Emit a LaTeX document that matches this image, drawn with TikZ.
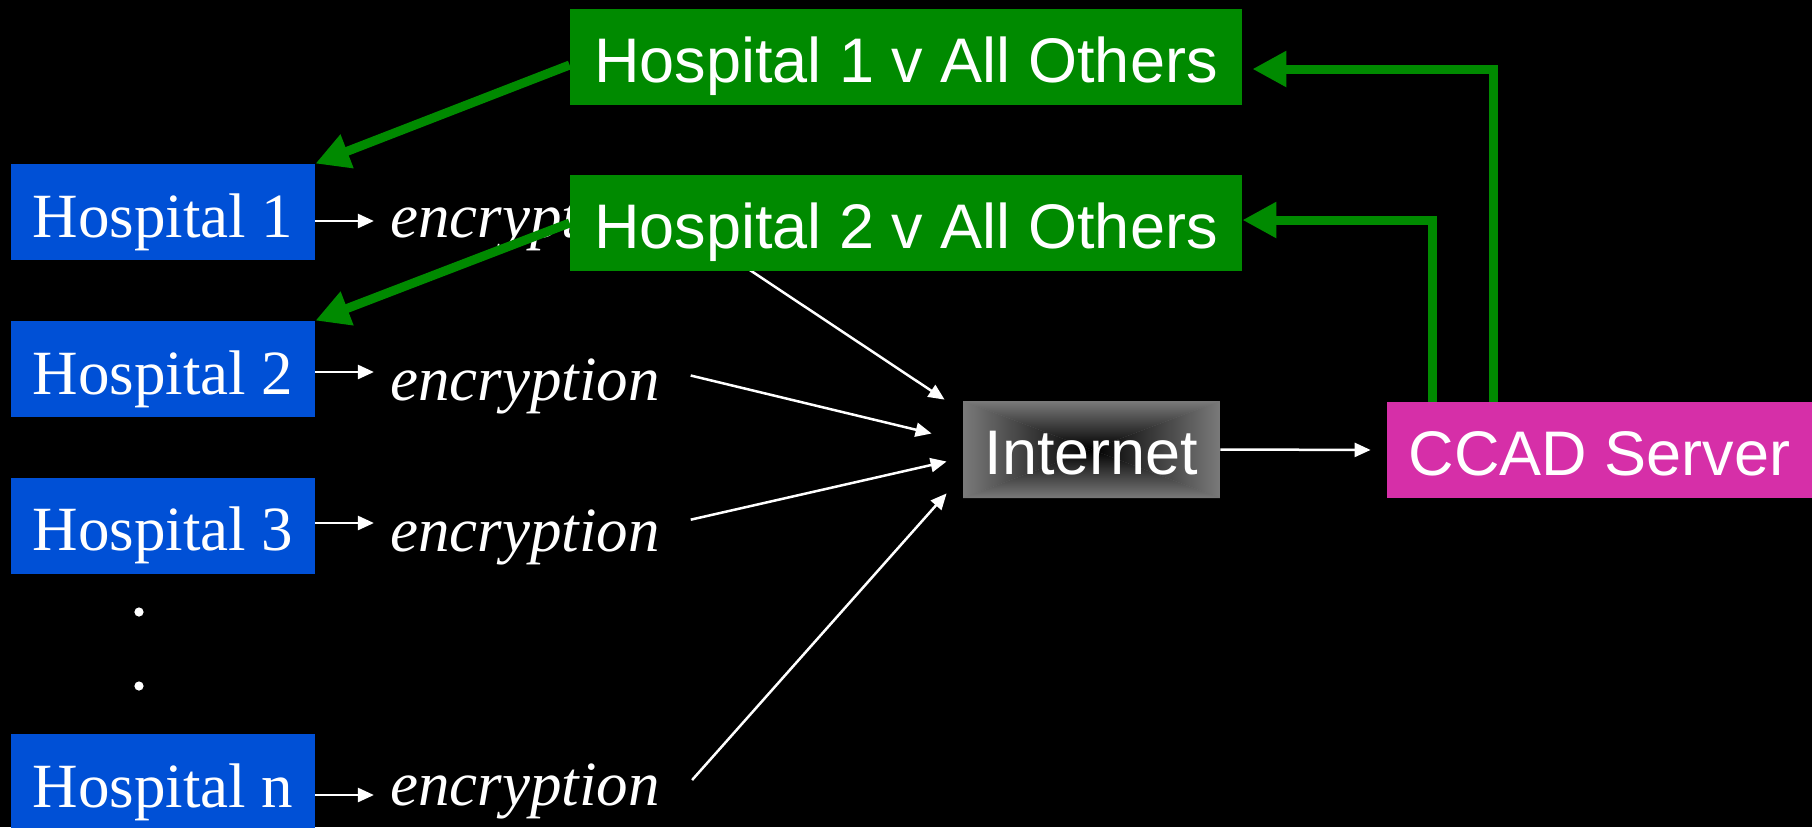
\documentclass[tikz,border=0pt]{standalone}
\usepackage{fontspec}
\setmainfont{Liberation Serif}
\setsansfont{Liberation Sans}
\usetikzlibrary{arrows.meta}
\definecolor{hospblue}{HTML}{0050D6}
\definecolor{modelgreen}{HTML}{008A00}
\definecolor{servermagenta}{HTML}{D62FA8}
\definecolor{netgray}{HTML}{7A7A7A}

\begin{document}
\begin{tikzpicture}[x=0.5pt, y=-0.5pt,
  hosp/.style={rectangle, fill=hospblue, text=white, inner sep=0pt,
               minimum width=152pt, minimum height=48pt, text height=25.2pt, text depth=0pt,
               font=\fontsize{31.5}{36}\selectfont},
  model/.style={rectangle, fill=modelgreen, text=white, inner sep=0pt,
                minimum width=336pt, minimum height=48pt, text height=25.2pt, text depth=0pt,
                font=\sffamily\fontsize{31.5}{36}\selectfont},
  server/.style={model, fill=servermagenta, minimum width=212.5pt},
  netbox/.style={model, fill=none, minimum width=128.5pt, minimum height=48.5pt,
                 path picture={
                   \coordinate (nsw) at (path picture bounding box.south west);
                   \coordinate (nnw) at (path picture bounding box.north west);
                   \coordinate (nne) at (path picture bounding box.north east);
                   \coordinate (nse) at (path picture bounding box.south east);
                   \coordinate (nc)  at (path picture bounding box.center);
                   \fill[netgray] (nsw) rectangle (nne);
                   \begin{scope}\clip (nsw) -- (nc) -- (nnw) -- cycle;
                     \shade[left color=netgray, right color=black] (nsw) rectangle (nc |- nne);\end{scope}
                   \begin{scope}\clip (nse) -- (nc) -- (nne) -- cycle;
                     \shade[left color=black, right color=netgray] (nc |- nsw) rectangle (nne);\end{scope}
                   \begin{scope}\clip (nnw) -- (nc) -- (nne) -- cycle;
                     \shade[top color=netgray, bottom color=black] (nsw |- nc) rectangle (nne);\end{scope}
                   \begin{scope}\clip (nsw) -- (nc) -- (nse) -- cycle;
                     \shade[top color=black, bottom color=netgray] (nsw) rectangle (nne |- nc);\end{scope}
                 }},
  crypt/.style={text=white, inner xsep=8pt, inner ysep=0pt, text depth=0pt,
                font=\itshape\fontsize{31.5}{36}\selectfont},
  dotmark/.style={circle, fill=white, inner sep=0pt, minimum size=4.6pt},
  flow/.style={-{Triangle[length=8pt, width=7pt]}, white, line width=1.25pt},
  feedback/.style={-{Triangle[length=17pt, width=17pt]}, modelgreen, line width=4.5pt},
]
  \useasboundingbox (0,0) rectangle (1812,827);
  \fill[black] (0,0) rectangle (1812,827);

  % hospitals and their encryption step
  \node[hosp] (h1) at (163,212)   {Hospital 1};
  \node[hosp] (h2) at (163,369)   {Hospital 2};
  \node[hosp] (h3) at (163,525.5) {Hospital 3};
  \node[hosp] (hn) at (163,782)   {Hospital n};
  \node[dotmark] (dot1) at (139,612) {};
  \node[dotmark] (dot2) at (139,686) {};

  \node[crypt, text height=16pt] (enc1) at (525,221) {encryption};
  \node[crypt, text height=28pt] (enc2) at (525,372) {encryption};
  \node[crypt, text height=28pt] (enc3) at (525,523) {encryption};
  \node[crypt, text height=10pt] (encn) at (525,795) {encryption};

  \node[netbox] (inet) at (1091.5,449.5) {Internet};
  \node[server] (ccad) at (1599.5,450)   {CCAD Server};

  \draw[flow] (h1.east |- enc1.west) -- (enc1.west);
  \draw[flow] (h2.east |- enc2.west) -- (enc2.west);
  \draw[flow] (h3.east |- enc3.west) -- (enc3.west);
  \draw[flow] (hn.east |- encn.west) -- (encn.west);
  \draw[flow, shorten <=7.5pt] (enc1.east) -- ([shift={(-18,-1)}]inet.north west);
  \draw[flow, shorten <=7.5pt] (enc2.east) -- ([shift={(-31,-16)}]inet.west);
  \draw[flow, shorten <=7.5pt] (enc3.east) -- ([shift={(-16,12)}]inet.west);
  \draw[flow] ([shift={(16,-15)}]encn.east) -- ([shift={(-16,-5)}]inet.south west);
  \draw[flow, shorten >=8pt] (inet.east) -- (ccad.west);

  % results sent back
  \node[model] (g1) at (906,57)  {Hospital 1 v All Others};
  \node[model] (g2) at (906,223) {Hospital 2 v All Others};

  \draw[feedback] ([shift={(0,8)}]g1.west) -- (h1.north east);
  \draw[feedback] (g2.west) -- (h2.north east);
  \draw[feedback] ([shift={(107,0)}]ccad.north west) |- ([shift={(10,12)}]g1.east);
  \draw[feedback] ([shift={(46,0)}]ccad.north west) |- ([shift={(0,-3)}]g2.east);
\end{tikzpicture}
\end{document}
